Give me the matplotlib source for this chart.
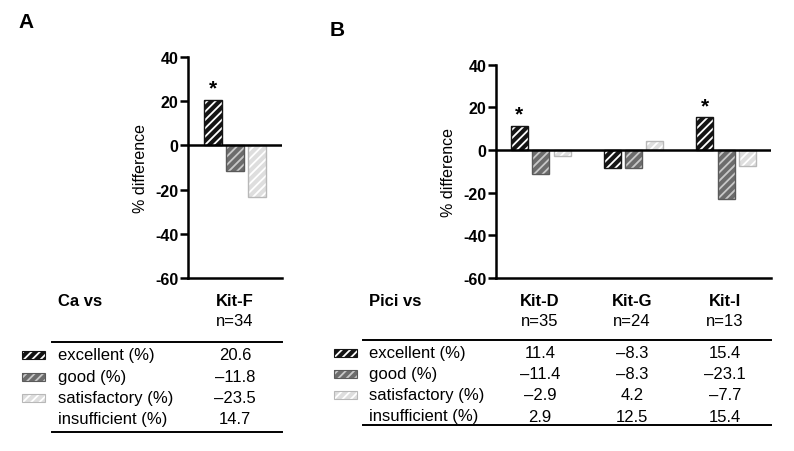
import numpy as np
import matplotlib
matplotlib.use('Agg')
import matplotlib.pyplot as plt
from matplotlib.patches import Rectangle
from matplotlib.lines import Line2D

plt.rcParams['font.family'] = ['Liberation Sans', 'DejaVu Sans']
plt.rcParams['hatch.linewidth'] = 1.3

# data
categories = ['excellent (%)', 'good (%)', 'satisfactory (%)', 'insufficient (%)']
bar_cats = 3  # only the first three are drawn as bars

kits_a = ['Kit-F']
n_a = [34]
vals_a = [[20.6, -11.8, -23.5, 14.7]]
stars_a = [True]

kits_b = ['Kit-D', 'Kit-G', 'Kit-I']
n_b = [35, 24, 13]
vals_b = [[11.4, -11.4, -2.9, 2.9],
          [-8.3, -8.3, 4.2, 12.5],
          [15.4, -23.1, -7.7, 15.4]]
stars_b = [True, False, True]

yticks = [-60, -40, -20, 0, 20, 40]

# bar styles: face, hatch colour, outline
styles = [('#141414', '#ffffff', '#141414'),
          ('#6c6c6c', '#c8c8c8', '#5a5a5a'),
          ('#dedede', '#ffffff', '#b8b8b8')]

W, H = 794, 452
fig = plt.figure(figsize=(W / 100, H / 100), dpi=100)


def fx(x):
    return x / W


def fy(y):
    return 1 - y / H


def fmt(v):
    return ('%.1f' % v).replace('-', '\u2013')


def hbar(ax, x, h, k, width=0.8):
    face, hcol, edge = styles[k]
    ax.bar(x, h, width=width, color=face, edgecolor=hcol, hatch='////', linewidth=0, zorder=2)
    ax.bar(x, h, width=width, fill=False, edgecolor=edge, linewidth=1.0, zorder=3)


def panel(left, right, top, bottom, kits, vals, stars, group_step, xlim):
    ax = fig.add_axes([fx(left), fy(bottom), fx(right - left), (bottom - top) / H])
    for g, kv in enumerate(vals):
        for k in range(bar_cats):
            hbar(ax, g * group_step + k, kv[k], k)
        if stars[g]:
            ax.text(g * group_step, kv[0] + 1, '*', ha='center', va='bottom',
                    fontsize=15, fontweight='bold')
    ax.axhline(0, color='black', lw=1.8, zorder=4)
    ax.set_ylim(-60, 40)
    ax.set_xlim(*xlim)
    ax.set_yticks(yticks)
    ax.set_yticklabels([str(t) for t in yticks], fontweight='bold', fontsize=11.5)
    ax.set_xticks([])
    for s in ['top', 'right']:
        ax.spines[s].set_visible(False)
    for s in ['left', 'bottom']:
        ax.spines[s].set_linewidth(1.8)
    ax.tick_params(axis='y', length=6, width=1.8, pad=1)
    ax.set_ylabel('% difference', fontsize=11.5, labelpad=5)
    return ax


def table(title, title_x, kits, ns, vals, col_xs, line_x0, line_x1, head_y, n_y,
          line_y, row_ys, bottom_y, patch_x):
    fig.text(fx(title_x), fy(head_y), title, fontsize=12, fontweight='bold',
             ha='left', va='center')
    for j, kit in enumerate(kits):
        fig.text(fx(col_xs[j]), fy(head_y), kit, fontsize=12, fontweight='bold',
                 ha='center', va='center')
        fig.text(fx(col_xs[j]), fy(n_y), 'n=%d' % ns[j], fontsize=12,
                 ha='center', va='center')
    for yy in (line_y, bottom_y):
        fig.add_artist(Line2D([fx(line_x0), fx(line_x1)], [fy(yy), fy(yy)],
                              color='black', lw=1.4))
    for i, cat in enumerate(categories):
        fig.text(fx(title_x), fy(row_ys[i]), cat, fontsize=12, ha='left', va='center')
        for j in range(len(kits)):
            fig.text(fx(col_xs[j]), fy(row_ys[i]), fmt(vals[j][i]), fontsize=12,
                     ha='center', va='center')
        if i < bar_cats:
            face, hcol, edge = styles[i]
            x0, w, h = fx(patch_x), fx(23), 8 / H
            y0 = fy(row_ys[i]) - h / 2
            fig.add_artist(Rectangle((x0, y0), w, h, facecolor=face, edgecolor=hcol,
                                     hatch='////', lw=0, transform=fig.transFigure))
            fig.add_artist(Rectangle((x0, y0), w, h, fill=False, edgecolor=edge,
                                     lw=0.8, transform=fig.transFigure))


# panel A
panel(188, 282, 58, 279, kits_a, vals_a, stars_a, 4.35, (-1.09, 3.09))
fig.text(fx(18), fy(23), 'A', fontsize=15, fontweight='bold', ha='left', va='center')
table('Ca vs', 58, kits_a, n_a, vals_a, [235], 52, 282, 302, 321, 343,
      [356, 378, 399, 420], 433, 22)

# panel B
panel(496, 771, 65.7, 279, kits_b, vals_b, stars_b, 4.35, (-1.1, 11.8))
fig.text(fx(330), fy(30), 'B', fontsize=15, fontweight='bold', ha='left', va='center')
table('Pici vs', 369, kits_b, n_b, vals_b, [540, 632, 725], 363, 771, 302, 321, 341,
      [354, 375, 396, 417], 426, 334)

fig.savefig('out.png', dpi=100)
